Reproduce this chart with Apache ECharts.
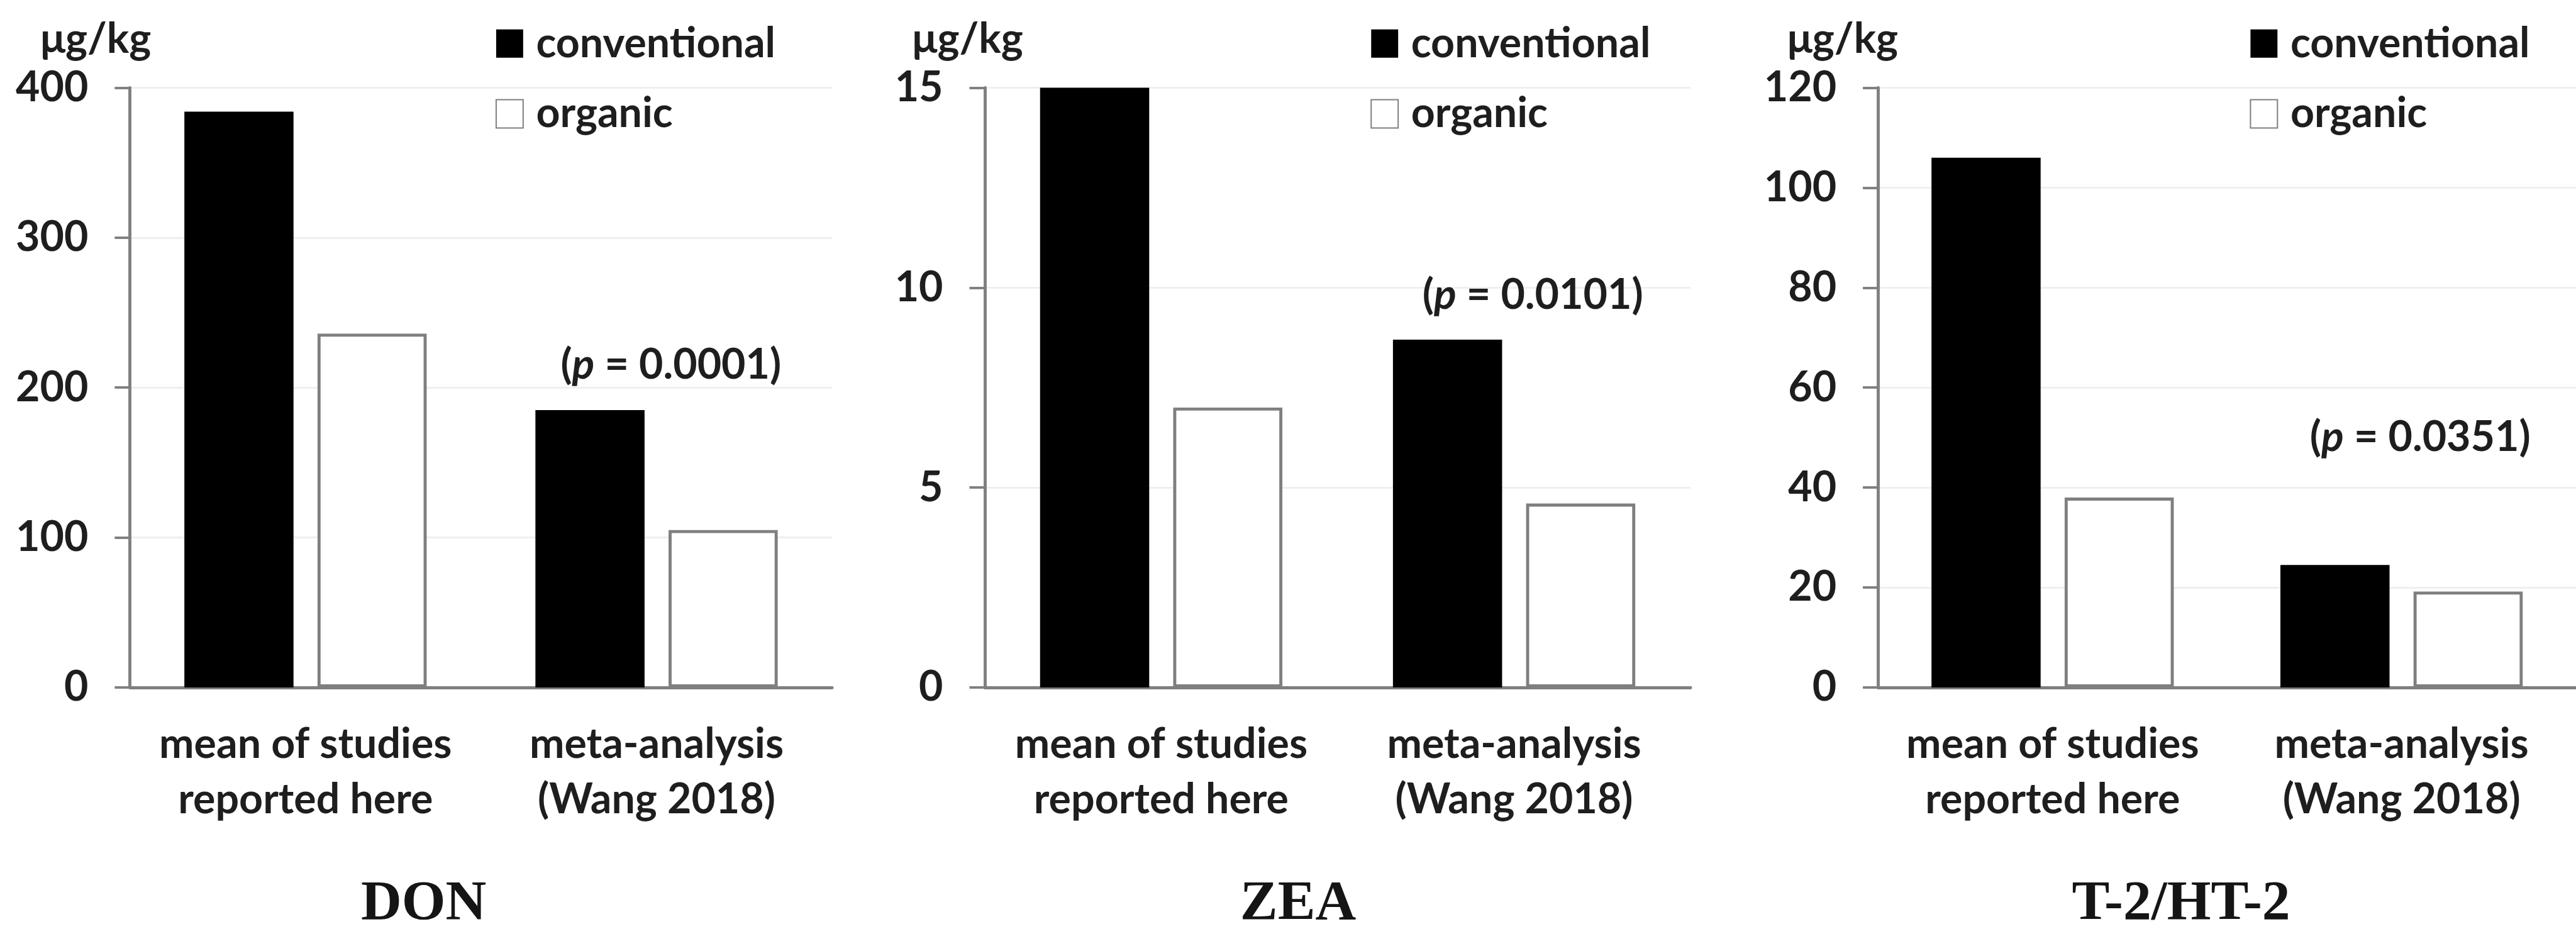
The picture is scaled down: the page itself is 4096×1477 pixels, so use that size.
<!DOCTYPE html>
<html>
<head>
<meta charset="utf-8">
<script src="https://cdn.jsdelivr.net/npm/echarts@6/dist/echarts.min.js"></script>
<style>
  html, body { margin: 0; padding: 0; background: #ffffff; }
  #chart { width: 4096px; height: 1477px; }
</style>
</head>
<body>
<div id="chart"></div>
<script>
// ---------------- data ----------------
const categories = ['mean of studies\nreported here', 'meta-analysis\n(Wang 2018)'];
const seriesNames = ['conventional', 'organic'];
const panelTitles = ['DON', 'ZEA', 'T-2/HT-2'];
const unitLabel = 'μg/kg';

const donConventional = [384, 185];
const donOrganic = [236, 105];
const zeaConventional = [15.0, 8.7];
const zeaOrganic = [7.0, 4.6];
const t2Conventional = [106, 24.5];
const t2Organic = [38, 19.2];

const yMax = [400, 15, 120];
const yInterval = [100, 5, 20];
const pValues = ['0.0001', '0.0101', '0.0351'];
const pLabelY = [215, 9.8, 50];

// ---------------- layout (reference pixels, scaled by S) ----------------
const S = 0.975;
const s = v => v * S;
const FONT = 'Lato';
const TXT = '#1e1e1e';
const AX = '#7f7f7f';
const layout = [
  { left: 212,  width: 1145, legendLeft: 803,  nameShift: 112, titleX: 691,  pOffset: 23 },
  { left: 1606, width: 1151, legendLeft: 2230, nameShift: 56,  titleX: 2117, pOffset: 30 },
  { left: 3063, width: 1158, legendLeft: 3664, nameShift: 116, titleX: 3557, pOffset: 30 }
];
const gridTop = 143, gridHeight = 978;
const barW = 178;          // bar width (ref px)
const barShift = 109;      // conventional bar centre -> category centre (ref px)
const convData = [donConventional, zeaConventional, t2Conventional];
const orgData = [donOrganic, zeaOrganic, t2Organic];

const textBase = { fontFamily: FONT, fontWeight: 'bold', fontSize: s(68), color: TXT };

const option = {
  backgroundColor: '#ffffff',
  animation: false,
  grid: layout.map(L => ({ left: s(L.left), top: s(gridTop), width: s(L.width), height: s(gridHeight), containLabel: false })),
  xAxis: layout.map((L, i) => ({
    gridIndex: i,
    type: 'category',
    data: categories,
    axisLine: { show: true, lineStyle: { color: AX, width: s(5) } },
    axisTick: { show: false },
    axisLabel: Object.assign({ interval: 0, margin: s(48), lineHeight: s(90) }, textBase),
    splitLine: { show: false }
  })),
  yAxis: layout.map((L, i) => ({
    gridIndex: i,
    type: 'value',
    min: 0,
    max: yMax[i],
    interval: yInterval[i],
    name: unitLabel,
    nameLocation: 'end',
    nameGap: s(45),
    nameTextStyle: Object.assign({ align: 'center', verticalAlign: 'bottom', lineHeight: s(68), padding: [0, s(L.nameShift), 0, 0] }, textBase),
    axisLine: { show: true, lineStyle: { color: AX, width: s(5) } },
    axisTick: { show: true, length: s(25), lineStyle: { color: AX, width: s(4) } },
    axisLabel: Object.assign({ margin: s(68) }, textBase),
    splitLine: { show: true, lineStyle: { color: '#efefef', width: s(3) } }
  })),
  legend: layout.map(L => ({
    data: seriesNames,
    orient: 'vertical',
    left: s(L.legendLeft),
    top: s(32),
    itemWidth: s(44),
    itemHeight: s(46),
    itemGap: s(47),
    icon: 'rect',
    selectedMode: false,
    textStyle: Object.assign({ padding: [0, 0, 0, s(16)] }, textBase)
  })),
  series: [],
  graphic: layout.map((L, i) => ({
    type: 'text',
    x: s(L.titleX),
    y: s(1475),
    style: {
      text: panelTitles[i],
      font: 'bold ' + s(92) + 'px "Liberation Serif"',
      fill: '#151515',
      align: 'center', verticalAlign: 'middle',
      textAlign: 'center', textVerticalAlign: 'middle'
    }
  }))
};

layout.forEach((L, i) => {
  option.series.push({
    name: seriesNames[0],
    type: 'bar',
    xAxisIndex: i, yAxisIndex: i,
    data: convData[i],
    barWidth: s(barW),
    barGap: '22%',
    itemStyle: { color: '#000000' },
    markPoint: {
      symbol: 'rect',
      symbolSize: 1,
      itemStyle: { color: 'rgba(0,0,0,0)' },
      label: {
        show: true,
        position: 'inside',
        offset: [s(L.pOffset + barShift), 0],
        formatter: '{n|(}{i|p}{n| = ' + pValues[i] + ')}',
        rich: {
          n: Object.assign({}, textBase),
          i: Object.assign({ fontStyle: 'italic' }, textBase)
        }
      },
      data: [{ coord: [categories[1], pLabelY[i]] }]
    }
  });
  option.series.push({
    name: seriesNames[1],
    type: 'bar',
    xAxisIndex: i, yAxisIndex: i,
    data: orgData[i],
    barWidth: s(barW),
    barGap: '22%',
    itemStyle: { color: '#ffffff', borderColor: AX, borderWidth: s(5) }
  });
});

const chart = echarts.init(document.getElementById('chart'), null, { renderer: 'canvas' });
chart.setOption(option);
</script>
</body>
</html>
